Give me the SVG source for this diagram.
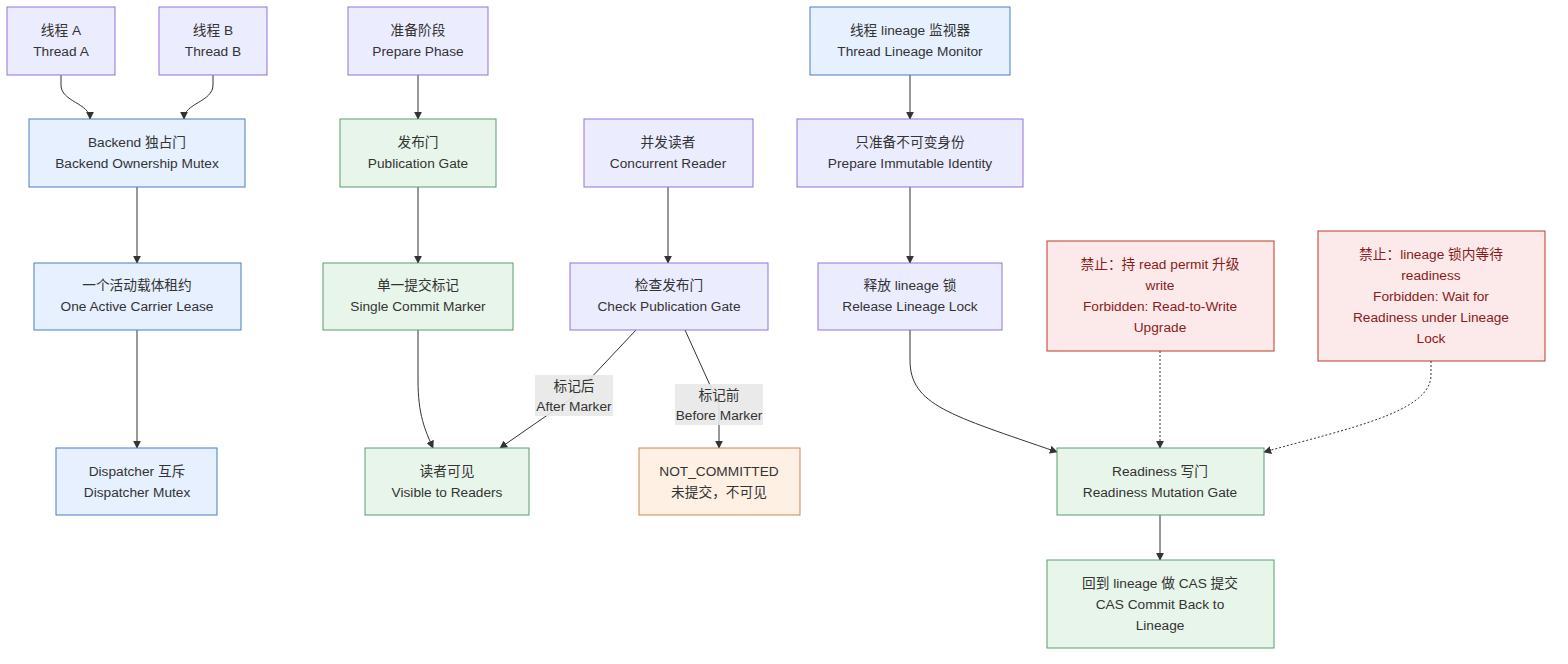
<svg xmlns="http://www.w3.org/2000/svg" width="1568" height="664" viewBox="0 0 1568 664">
<defs>
<marker id="arr" viewBox="0 0 10 10" refX="9" refY="5" markerWidth="8" markerHeight="8" markerUnits="userSpaceOnUse" orient="auto"><path d="M0,0 L10,5 L0,10 z" fill="#333"/></marker>
</defs>
<style>
text{font-family:"Liberation Sans","Noto Sans CJK SC",sans-serif;font-size:13.7px;fill:#333;text-anchor:middle}
.p{fill:#ECECFF;stroke:#9370DB;stroke-width:1}
.b{fill:#E6F0FF;stroke:#4A7FC1;stroke-width:1}
.g{fill:#E8F5EA;stroke:#5A9E6E;stroke-width:1}
.o{fill:#FFF0E4;stroke:#C8885A;stroke-width:1}
.r{fill:#FCEAEA;stroke:#C0392B;stroke-width:1}
.rt{fill:#8B1A1A}
.e{fill:none;stroke:#333;stroke-width:1;marker-end:url(#arr)}
.d{stroke-dasharray:2,2}
.lb{fill:#E8E8E8;opacity:0.9}
</style>
<g id="edges">
<path class="e" d="M61,75 L61,85 C61,102 90,103 90,119"/>
<path class="e" d="M213,75 L213,85 C213,102 184,103 184,119"/>
<path class="e" d="M137,187 L137,263"/>
<path class="e" d="M137,330 L137,448"/>
<path class="e" d="M418,75 L418,119"/>
<path class="e" d="M418,187 L418,263"/>
<path class="e" d="M418,330 L418,380 C418,415 425,430 433,448"/>
<path class="e" d="M668,187 L668,263"/>
<path class="e" d="M636,330 L572,398 L500,448"/>
<path class="e" d="M685,330 L719,405 L719,448"/>
<path class="e" d="M910,75 L910,119"/>
<path class="e" d="M910,187 L910,263"/>
<path class="e" d="M910,330 L910,360 C910,405 950,415 1057,452"/>
<path class="e d" d="M1160,351 L1160,448"/>
<path class="e d" d="M1431,361 L1431,375 C1431,412 1350,428 1264,452"/>
<path class="e" d="M1160,515 L1160,560"/>
<rect class="lb" x="535" y="375" width="78" height="41"/>
<text x="574" y="391">标记后</text>
<text x="574" y="411">After Marker</text>
<rect class="lb" x="675" y="384" width="88" height="41"/>
<text x="719" y="400">标记前</text>
<text x="719" y="420">Before Marker</text>
</g>
<g id="threadA"><rect class="p" x="7" y="7" width="108" height="68"/><text x="61" y="35">线程 A</text><text x="61" y="56">Thread A</text></g>
<g id="threadB"><rect class="p" x="159" y="7" width="108" height="68"/><text x="213" y="35">线程 B</text><text x="213" y="56">Thread B</text></g>
<g id="prepare"><rect class="p" x="348" y="7" width="140" height="68"/><text x="418" y="35">准备阶段</text><text x="418" y="56">Prepare Phase</text></g>
<g id="monitor"><rect class="b" x="810" y="7" width="200" height="68"/><text x="910" y="35">线程 lineage 监视器</text><text x="910" y="56">Thread Lineage Monitor</text></g>
<g id="backend"><rect class="b" x="29" y="119" width="216" height="68"/><text x="137" y="147">Backend 独占门</text><text x="137" y="168">Backend Ownership Mutex</text></g>
<g id="pubgate"><rect class="g" x="340" y="119" width="156" height="68"/><text x="418" y="147">发布门</text><text x="418" y="168">Publication Gate</text></g>
<g id="reader"><rect class="p" x="584" y="119" width="169" height="68"/><text x="668" y="147">并发读者</text><text x="668" y="168">Concurrent Reader</text></g>
<g id="identity"><rect class="p" x="797" y="119" width="226" height="68"/><text x="910" y="147">只准备不可变身份</text><text x="910" y="168">Prepare Immutable Identity</text></g>
<g id="lease"><rect class="b" x="34" y="263" width="207" height="67"/><text x="137" y="290">一个活动载体租约</text><text x="137" y="311">One Active Carrier Lease</text></g>
<g id="marker"><rect class="g" x="323" y="263" width="190" height="67"/><text x="418" y="290">单一提交标记</text><text x="418" y="311">Single Commit Marker</text></g>
<g id="check"><rect class="p" x="570" y="263" width="198" height="67"/><text x="669" y="290">检查发布门</text><text x="669" y="311">Check Publication Gate</text></g>
<g id="release"><rect class="p" x="818" y="263" width="184" height="67"/><text x="910" y="290">释放 lineage 锁</text><text x="910" y="311">Release Lineage Lock</text></g>
<g id="forbid1"><rect class="r" x="1047" y="241" width="227" height="110"/><text class="rt" x="1160" y="269">禁止：持 read permit 升级</text><text class="rt" x="1160" y="290">write</text><text class="rt" x="1160" y="311">Forbidden: Read-to-Write</text><text class="rt" x="1160" y="332">Upgrade</text></g>
<g id="forbid2"><rect class="r" x="1318" y="231" width="227" height="130"/><text class="rt" x="1431" y="259">禁止：lineage 锁内等待</text><text class="rt" x="1431" y="280">readiness</text><text class="rt" x="1431" y="301">Forbidden: Wait for</text><text class="rt" x="1431" y="322">Readiness under Lineage</text><text class="rt" x="1431" y="343">Lock</text></g>
<g id="dispatcher"><rect class="b" x="56" y="448" width="161" height="67"/><text x="137" y="476">Dispatcher 互斥</text><text x="137" y="497">Dispatcher Mutex</text></g>
<g id="visible"><rect class="g" x="365" y="448" width="164" height="67"/><text x="447" y="476">读者可见</text><text x="447" y="497">Visible to Readers</text></g>
<g id="notcommitted"><rect class="o" x="639" y="448" width="161" height="67"/><text x="719" y="476">NOT_COMMITTED</text><text x="719" y="497">未提交，不可见</text></g>
<g id="readiness"><rect class="g" x="1057" y="448" width="207" height="67"/><text x="1160" y="476">Readiness 写门</text><text x="1160" y="497">Readiness Mutation Gate</text></g>
<g id="cas"><rect class="g" x="1047" y="560" width="227" height="88"/><text x="1160" y="588">回到 lineage 做 CAS 提交</text><text x="1160" y="609">CAS Commit Back to</text><text x="1160" y="630">Lineage</text></g>
</svg>
